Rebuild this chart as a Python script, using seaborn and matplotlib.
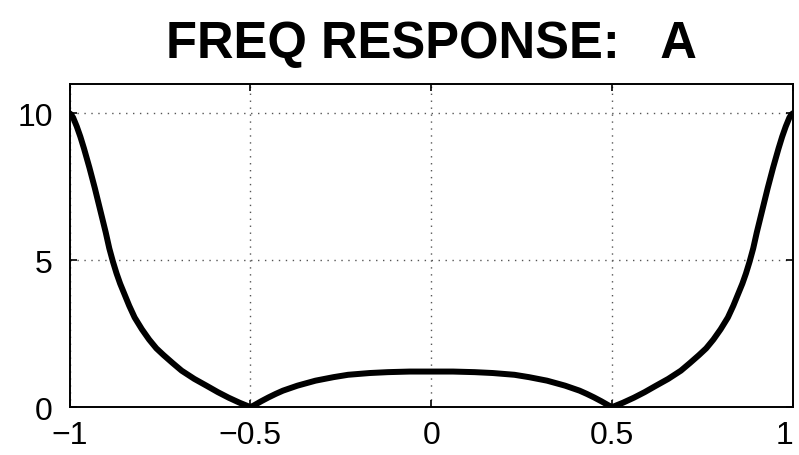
import matplotlib
matplotlib.use("Agg")
import matplotlib.pyplot as plt
import seaborn as sns
import pandas as pd

# Values (normalized frequency vs magnitude)
freq_left = [-1.00, -0.995, -0.99, -0.98, -0.97, -0.96, -0.945, -0.93, -0.915,
             -0.90, -0.89, -0.88, -0.87, -0.86, -0.85, -0.835, -0.82, -0.80,
             -0.78, -0.76, -0.74, -0.715, -0.69, -0.655, -0.62, -0.59, -0.56,
             -0.53, -0.51, -0.50, -0.49, -0.47, -0.45, -0.43, -0.41, -0.37,
             -0.32, -0.27, -0.23, -0.17, -0.12, -0.06]
mag_left = [10.0, 9.95, 9.85, 9.55, 9.2, 8.8, 8.15, 7.45, 6.7,
            5.95, 5.4, 4.95, 4.55, 4.2, 3.9, 3.45, 3.05, 2.65,
            2.3, 2.0, 1.77, 1.5, 1.24, 0.96, 0.72, 0.51, 0.32,
            0.15, 0.05, 0.0, 0.06, 0.2, 0.33, 0.45, 0.56, 0.73,
            0.90, 1.02, 1.10, 1.16, 1.19, 1.21]
freq_center = [0.0]
mag_center = [1.21]
freq_right = [0.06, 0.12, 0.17, 0.23, 0.27, 0.32, 0.37, 0.41, 0.43, 0.45,
              0.47, 0.49, 0.50, 0.51, 0.53, 0.56, 0.59, 0.62, 0.655, 0.69,
              0.715, 0.74, 0.76, 0.78, 0.80, 0.82, 0.835, 0.85, 0.86, 0.87,
              0.88, 0.89, 0.90, 0.915, 0.93, 0.945, 0.96, 0.97, 0.98, 0.99,
              0.995, 1.00]
mag_right = [1.21, 1.19, 1.16, 1.10, 1.02, 0.90, 0.73, 0.56, 0.45, 0.33,
             0.2, 0.06, 0.0, 0.05, 0.15, 0.32, 0.51, 0.72, 0.96, 1.24,
             1.5, 1.77, 2.0, 2.3, 2.65, 3.05, 3.45, 3.9, 4.2, 4.55,
             4.95, 5.4, 5.95, 6.7, 7.45, 8.15, 8.8, 9.2, 9.55, 9.85,
             9.95, 10.0]

x_ticks = [-1, -0.5, 0, 0.5, 1]
x_tick_labels = ["\u22121", "\u22120.5", "0", "0.5", "1"]
y_ticks = [0, 5, 10]
y_tick_labels = ["0", "5", "10"]
title_text = "FREQ RESPONSE:   A"

df = pd.DataFrame({"freq": freq_left + freq_center + freq_right,
                   "mag": mag_left + mag_center + mag_right})

sns.set_theme(style="white")
plt.rcParams["font.family"] = ["Liberation Sans", "DejaVu Sans"]

fig = plt.figure(figsize=(7.99, 4.56), dpi=100)
ax = fig.add_axes([0.087, 0.105, 0.9055, 0.709])

sns.lineplot(data=df, x="freq", y="mag", ax=ax, color="black",
             linewidth=4.3, sort=False, estimator=None)
ax.lines[0].set_solid_joinstyle("round")
ax.lines[0].set_solid_capstyle("round")

ax.set_xlim(-1, 1)
ax.set_ylim(0, 11)
ax.set_xticks(x_ticks)
ax.set_xticklabels(x_tick_labels)
ax.set_yticks(y_ticks)
ax.set_yticklabels(y_tick_labels)
ax.set_xlabel("")
ax.set_ylabel("")

ax.grid(True, linestyle=(0, (1, 4)), color="#555555", linewidth=1.0)
ax.set_axisbelow(True)
for s in ax.spines.values():
    s.set_visible(True)
    s.set_color("black")
    s.set_linewidth(1.4)

ax.tick_params(axis="both", direction="in", length=5, width=1.2,
               labelsize=23, colors="black", top=True, right=True,
               bottom=True, left=True)
ax.tick_params(axis="x", pad=9)
ax.tick_params(axis="y", pad=12)
xl = ax.get_xticklabels()
xl[-1].set_horizontalalignment("right")

ax.set_title(title_text, fontsize=36.5, fontweight="bold", pad=19, color="black")

fig.savefig("out.png", dpi=100, facecolor="white")
